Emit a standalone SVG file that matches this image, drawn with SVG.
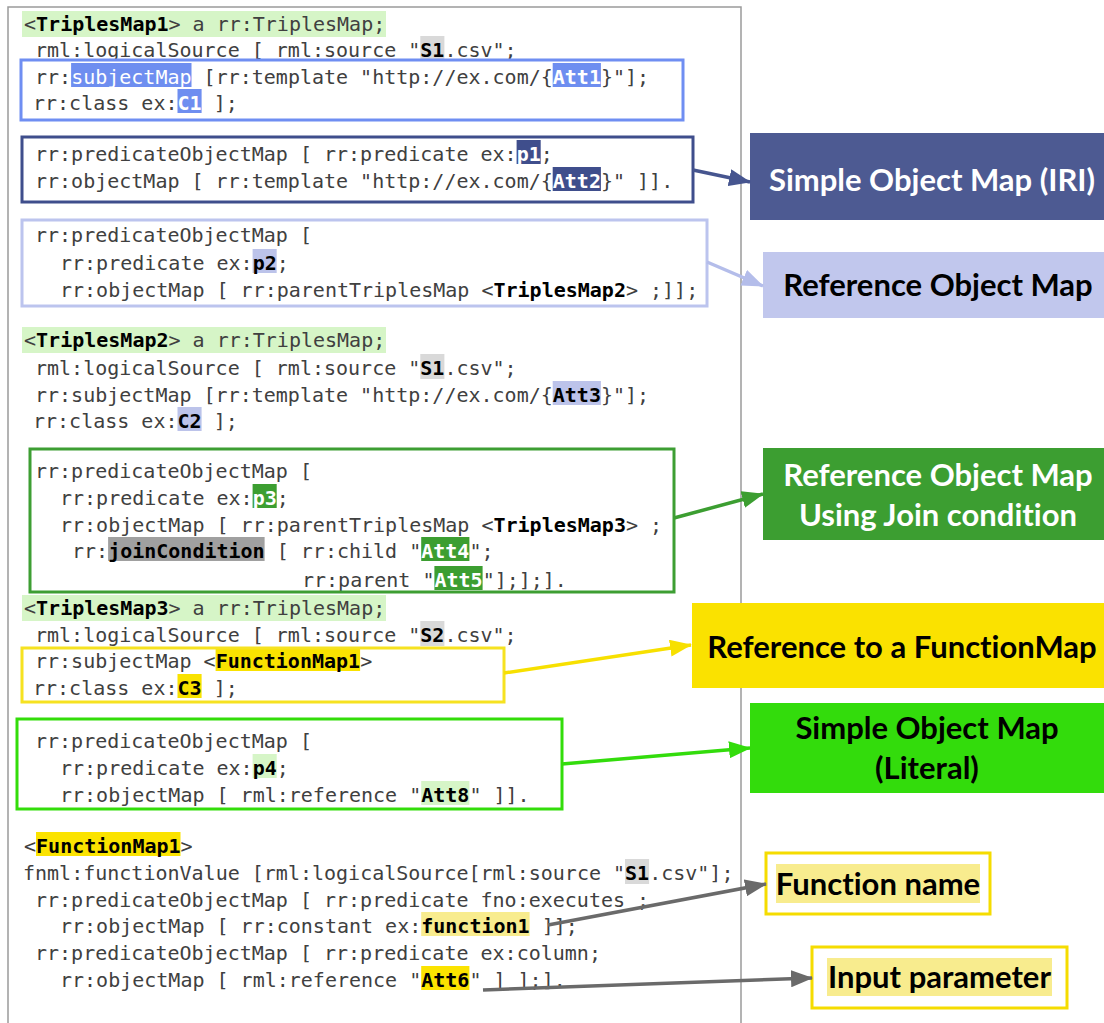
<svg xmlns="http://www.w3.org/2000/svg" width="1104" height="1023" viewBox="0 0 1104 1023">
  <style>
    .code { font-family: "DejaVu Sans Mono", "Liberation Mono", monospace; font-size: 20px; fill: #404040; }
    .b { font-weight: bold; fill: #000; }
    .w { font-weight: bold; fill: #fff; }
    .wr { fill: #fff; }
    .lbl { font-family: Lato, "Open Sans", "Liberation Sans", sans-serif; font-size: 31px; font-weight: bold; text-anchor: middle; font-variant-ligatures: none; }
    .box { fill: none; stroke-width: 3; }
    .conn { fill: none; stroke-width: 3.5; }
  </style>
  <defs>
    <marker id="head-navy" viewBox="0 0 22 17" refX="21" refY="8.5" markerWidth="22" markerHeight="17" markerUnits="userSpaceOnUse" orient="auto"><path d="M0,0 L22,8.5 L0,17 Z" fill="#46558f"/></marker>
    <marker id="head-lav" viewBox="0 0 22 17" refX="21" refY="8.5" markerWidth="22" markerHeight="17" markerUnits="userSpaceOnUse" orient="auto"><path d="M0,0 L22,8.5 L0,17 Z" fill="#b4bdea"/></marker>
    <marker id="head-green" viewBox="0 0 22 17" refX="21" refY="8.5" markerWidth="22" markerHeight="17" markerUnits="userSpaceOnUse" orient="auto"><path d="M0,0 L22,8.5 L0,17 Z" fill="#3c9e31"/></marker>
    <marker id="head-yellow" viewBox="0 0 22 17" refX="21" refY="8.5" markerWidth="22" markerHeight="17" markerUnits="userSpaceOnUse" orient="auto"><path d="M0,0 L22,8.5 L0,17 Z" fill="#f7e000"/></marker>
    <marker id="head-lime" viewBox="0 0 22 17" refX="21" refY="8.5" markerWidth="22" markerHeight="17" markerUnits="userSpaceOnUse" orient="auto"><path d="M0,0 L22,8.5 L0,17 Z" fill="#33dc0c"/></marker>
    <marker id="head-gray" viewBox="0 0 22 17" refX="21" refY="8.5" markerWidth="22" markerHeight="17" markerUnits="userSpaceOnUse" orient="auto"><path d="M0,0 L22,8.5 L0,17 Z" fill="#6a6a6a"/></marker>
  </defs>

  <rect width="1104" height="1023" fill="#fff"/>

  <!-- code panel frame -->
  <rect id="frame" x="8" y="7" width="733" height="1030" fill="none" stroke="#9a9a9a" stroke-width="1.5"/>

  <!-- inline highlights behind code tokens -->
  <g id="highlights">
    <rect x="22" y="11" width="364" height="26" fill="#d6f5c7"/>
    <rect x="420.3" y="36" width="24.1" height="25" fill="#d9d9d9"/>
    <rect x="71.1" y="63" width="120.4" height="24" fill="#6e8ef0"/>
    <rect x="552.7" y="63" width="48.2" height="24" fill="#6e8ef0"/>
    <rect x="177.5" y="89" width="24.1" height="24" fill="#6e8ef0"/>
    <rect x="516.6" y="140" width="24.1" height="24" fill="#3f4e8c"/>
    <rect x="552.7" y="167" width="48.2" height="24" fill="#3f4e8c"/>
    <rect x="252.6" y="249" width="24.1" height="24" fill="#bcc3ea"/>
    <rect x="22" y="327" width="364" height="26" fill="#d6f5c7"/>
    <rect x="420.3" y="354" width="24.1" height="25" fill="#d9d9d9"/>
    <rect x="552.7" y="381" width="48.2" height="24" fill="#bcc3ea"/>
    <rect x="177.5" y="407" width="24.1" height="24" fill="#bcc3ea"/>
    <rect x="252.6" y="484" width="24.1" height="24" fill="#3c9e31"/>
    <rect x="108.1" y="537" width="156.5" height="24" fill="#a0a0a0"/>
    <rect x="421.2" y="537" width="48.2" height="24" fill="#3c9e31"/>
    <rect x="434.4" y="566" width="48.2" height="24" fill="#3c9e31"/>
    <rect x="22" y="595" width="364" height="26" fill="#d6f5c7"/>
    <rect x="420.3" y="621" width="24.1" height="25" fill="#d9d9d9"/>
    <rect x="215.6" y="647" width="144.5" height="24" fill="#f9e200"/>
    <rect x="177.5" y="674" width="24.1" height="24" fill="#f9e200"/>
    <rect x="252.6" y="754" width="24.1" height="24" fill="#d6f5c7"/>
    <rect x="421.2" y="781" width="48.2" height="24" fill="#d6f5c7"/>
    <rect x="36" y="832" width="144.5" height="24" fill="#fbe300"/>
    <rect x="625" y="859" width="24.1" height="25" fill="#d9d9d9"/>
    <rect x="421.2" y="912" width="108.4" height="24" fill="#f8ec8e"/>
    <rect x="421.2" y="966" width="48.2" height="24" fill="#fbe300"/>
  </g>

  <!-- mapping source text -->
  <g id="code" class="code">
    <text x="24" y="31">&lt;<tspan class="b">TriplesMap1</tspan>&gt; a rr:TriplesMap;</text>
    <text x="35" y="57">rml:logicalSource [ rml:source "<tspan class="b">S1</tspan>.csv";</text>
    <text x="35" y="84">rr:<tspan class="wr">subjectMap</tspan> [rr:template "http://ex.com/{<tspan class="w">Att1</tspan>}"];</text>
    <text x="33" y="110">rr:class ex:<tspan class="w">C1</tspan> ];</text>
    <text x="35" y="161">rr:predicateObjectMap [ rr:predicate ex:<tspan class="w">p1</tspan>;</text>
    <text x="35" y="188">rr:objectMap [ rr:template "http://ex.com/{<tspan class="w">Att2</tspan>}" ]].</text>
    <text x="35" y="242">rr:predicateObjectMap [</text>
    <text x="60" y="270">rr:predicate ex:<tspan class="b">p2</tspan>;</text>
    <text x="60" y="297">rr:objectMap [ rr:parentTriplesMap &lt;<tspan class="b">TriplesMap2</tspan>&gt; ;]];</text>
    <text x="24" y="347">&lt;<tspan class="b">TriplesMap2</tspan>&gt; a rr:TriplesMap;</text>
    <text x="35" y="375">rml:logicalSource [ rml:source "<tspan class="b">S1</tspan>.csv";</text>
    <text x="35" y="402">rr:subjectMap [rr:template "http://ex.com/{<tspan class="b">Att3</tspan>}"];</text>
    <text x="33" y="428">rr:class ex:<tspan class="b">C2</tspan> ];</text>
    <text x="35" y="478">rr:predicateObjectMap [</text>
    <text x="60" y="505">rr:predicate ex:<tspan class="w">p3</tspan>;</text>
    <text x="60" y="532">rr:objectMap [ rr:parentTriplesMap &lt;<tspan class="b">TriplesMap3</tspan>&gt; ;</text>
    <text x="72" y="558">rr:<tspan class="b">joinCondition</tspan> [ rr:child "<tspan class="w">Att4</tspan>";</text>
    <text x="302" y="587">rr:parent "<tspan class="w">Att5</tspan>"];];].</text>
    <text x="24" y="615">&lt;<tspan class="b">TriplesMap3</tspan>&gt; a rr:TriplesMap;</text>
    <text x="35" y="642">rml:logicalSource [ rml:source "<tspan class="b">S2</tspan>.csv";</text>
    <text x="35" y="668">rr:subjectMap &lt;<tspan class="b">FunctionMap1</tspan>&gt;</text>
    <text x="33" y="695">rr:class ex:<tspan class="b">C3</tspan> ];</text>
    <text x="35" y="748">rr:predicateObjectMap [</text>
    <text x="60" y="775">rr:predicate ex:<tspan class="b">p4</tspan>;</text>
    <text x="60" y="802">rr:objectMap [ rml:reference "<tspan class="b">Att8</tspan>" ]].</text>
    <text x="24" y="853">&lt;<tspan class="b">FunctionMap1</tspan>&gt;</text>
    <text x="23" y="880">fnml:functionValue [rml:logicalSource[rml:source "<tspan class="b">S1</tspan>.csv"];</text>
    <text x="35" y="907">rr:predicateObjectMap [ rr:predicate fno:executes ;</text>
    <text x="60" y="933">rr:objectMap [ rr:constant ex:<tspan class="b">function1</tspan> ]];</text>
    <text x="35" y="960">rr:predicateObjectMap [ rr:predicate ex:column;</text>
    <text x="60" y="987">rr:objectMap [ rml:reference "<tspan class="b">Att6</tspan>" ] ];].</text>
  </g>

  <!-- outlined code blocks -->
  <g id="subject-map-1"><rect class="box" x="21" y="60" width="662" height="60" stroke="#6f8ef2"/></g>
  <g id="pom-iri"><rect class="box" x="22" y="137" width="671" height="65" stroke="#3f4e8c"/></g>
  <g id="pom-ref"><rect class="box" x="22" y="220" width="685" height="86" stroke="#bcc4ee"/></g>
  <g id="pom-join"><rect class="box" x="30" y="449" width="644" height="143" stroke="#3d9e33"/></g>
  <g id="subject-map-3"><rect class="box" x="22" y="648" width="482" height="54" stroke="#f6e220"/></g>
  <g id="pom-literal"><rect class="box" x="17" y="719" width="545" height="90" stroke="#33dd0a"/></g>

  <!-- callout labels -->
  <g id="label-iri">
    <rect x="750" y="133" width="360" height="87" fill="#4d5a92"/>
    <text class="lbl" x="932" y="191" fill="#fff">Simple Object Map (IRI)</text>
  </g>
  <g id="label-ref">
    <rect x="763" y="252" width="347" height="66" fill="#c1c7ed"/>
    <text class="lbl" x="938" y="296" fill="#000">Reference Object Map</text>
  </g>
  <g id="label-join">
    <rect x="763" y="448" width="347" height="92" fill="#3c9e31"/>
    <text class="lbl" x="938" y="486" fill="#fff">Reference Object Map</text>
    <text class="lbl" x="938" y="526" fill="#fff">Using Join condition</text>
  </g>
  <g id="label-fnmap">
    <rect x="692" y="603" width="418" height="85" fill="#fae200"/>
    <text class="lbl" x="902" y="658" fill="#000">Reference to a FunctionMap</text>
  </g>
  <g id="label-literal">
    <rect x="750" y="703" width="360" height="90" fill="#33dc0c"/>
    <text class="lbl" x="927" y="739" fill="#000">Simple Object Map</text>
    <text class="lbl" x="927" y="779" fill="#000">(Literal)</text>
  </g>
  <g id="label-fname">
    <rect x="766" y="853" width="224" height="61" fill="#fff" stroke="#f5dc00" stroke-width="3"/>
    <rect x="776" y="864" width="204" height="39" fill="#f8ec8e"/>
    <text class="lbl" x="878" y="895" fill="#000">Function name</text>
  </g>
  <g id="label-input">
    <rect x="812" y="947" width="255" height="61" fill="#fff" stroke="#f5dc00" stroke-width="3"/>
    <rect x="827" y="958" width="225" height="38" fill="#f8ec8e"/>
    <text class="lbl" x="939.5" y="988" fill="#000">Input parameter</text>
  </g>

  <!-- connectors -->
  <g id="connectors">
    <line class="conn" x1="693" y1="170" x2="750" y2="182" stroke="#46558f" stroke-width="3" marker-end="url(#head-navy)"/>
    <line class="conn" x1="707" y1="262" x2="763" y2="286" stroke="#b4bdea" stroke-width="3" marker-end="url(#head-lav)"/>
    <line class="conn" x1="674" y1="518" x2="763" y2="494" stroke="#3c9e31" marker-end="url(#head-green)"/>
    <line class="conn" x1="504" y1="673" x2="691" y2="645" stroke="#f7e000" marker-end="url(#head-yellow)"/>
    <line class="conn" x1="562" y1="764" x2="750" y2="748" stroke="#33dc0c" marker-end="url(#head-lime)"/>
    <line class="conn" x1="548" y1="925" x2="766" y2="884" stroke="#6a6a6a" marker-end="url(#head-gray)"/>
    <line class="conn" x1="483" y1="990" x2="812" y2="978" stroke="#6a6a6a" marker-end="url(#head-gray)"/>
  </g>
</svg>
